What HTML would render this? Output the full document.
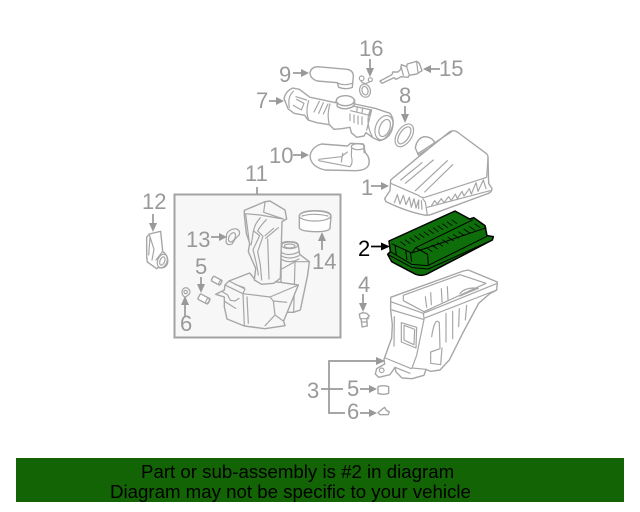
<!DOCTYPE html>
<html><head><meta charset="utf-8">
<style>
html,body{margin:0;padding:0;background:#fff;width:640px;height:512px;overflow:hidden}
svg{display:block;position:absolute;left:0;top:0;filter:blur(.3px)}
.n{font-family:"Liberation Sans",sans-serif;font-size:22px;fill:#999}
.l{fill:none;stroke:#a6a6a6;stroke-width:3.6;stroke-linejoin:round;stroke-linecap:round}
.w{fill:#fff;stroke:#a6a6a6;stroke-width:4.2;stroke-linejoin:round;stroke-linecap:round}
.f{fill:#f7f7f7;stroke:#a6a6a6;stroke-width:4.2;stroke-linejoin:round;stroke-linecap:round}
.a{fill:none;stroke:#999;stroke-width:1.7}
.h{fill:#999}
#b{position:absolute;left:16px;top:458px;width:608px;height:44px;background:#126405}
.t{position:absolute;font:18.67px/21px "Liberation Sans",sans-serif;color:#000;white-space:nowrap}
</style></head>
<body>
<svg width="640" height="512" viewBox="0 0 640 512">
<!-- box 11 -->
<rect x="174.500" y="194.500" width="166" height="143" fill="#f7f7f7" stroke="#a3a3a3" stroke-width="2"/>
<path class="a" d="M257 187V194"/>

<!-- top group -->
<g transform="translate(260,30) scale(.33333)">
 <!-- 9 -->
 <path class="w" d="M150 128Q153 112 172 110L262 118Q280 122 280 138L277 172Q258 180 236 172L232 158L172 153Q150 146 150 128Z"/>
 <path class="l" d="M234 160Q256 168 276 160"/>
 <!-- 16 -->
 <circle class="l" cx="305" cy="145" r="7"/><circle class="l" cx="331" cy="149" r="6"/>
 <path class="l" d="M303 153Q312 166 328 156"/>
 <ellipse class="l" cx="315" cy="182" rx="16" ry="20" transform="rotate(-15 315 182)"/>
 <ellipse class="l" cx="315" cy="182" rx="9" ry="13" transform="rotate(-15 315 182)"/>
 <!-- 15 -->
 <path class="w" d="M360 153L396 134L398 126L414 126L422 118L424 104L440 110L442 102L470 94L478 100L486 122L470 132L448 136L444 142L424 140L408 148L402 143L366 160Z"/>
 <path class="l" d="M440 110L448 136M424 112L430 136M470 96L474 128"/>
 <!-- 8 -->
 <ellipse class="l" cx="433" cy="316" rx="22" ry="38" transform="rotate(33 433 316)"/>
 <ellipse class="l" cx="433" cy="316" rx="14" ry="29" transform="rotate(33 433 316)"/>
 <!-- 10 -->
 <path class="w" d="M150 378Q155 350 185 342L262 348L272 340L310 342L316 368Q332 385 326 405Q318 422 285 422L195 420Q152 410 150 378Z"/>
 <ellipse class="l" cx="294" cy="350" rx="20" ry="9"/>
 <path class="l" d="M275 352L274 378M312 352L312 368M176 388L244 380L262 366M176 392L270 410Q280 400 274 378M248 370L244 396"/>
 <!-- 7 -->
 <path class="w" d="M72 205Q78 182 98 174L118 178L150 202L180 208L226 218Q236 200 260 198Q284 202 284 222L345 235L390 250Q408 274 392 302Q378 330 358 332L340 324L318 308L312 318L290 322L274 308L270 292L245 296L222 298L208 284L170 278L144 270L134 256L102 250L84 236Z"/>
 <ellipse class="l" cx="372" cy="293" rx="25" ry="38" transform="rotate(22 372 293)"/>
 <ellipse class="l" cx="374" cy="294" rx="15" ry="27" transform="rotate(22 374 294)"/>
 <path class="w" d="M230 210L232 230Q256 244 282 228L284 210Z"/>
 <ellipse class="w" cx="256" cy="212" rx="27" ry="15"/>
 <path class="l" d="M146 212Q136 245 146 270M210 222Q200 255 208 284M162 246L178 214M176 250L190 218M190 252L204 222M270 252L270 272M282 255L282 278M294 258L294 282M306 260L306 284M278 228L335 240L328 256L272 242M100 184Q82 200 88 232M100 226L124 240L132 220L110 208M108 200L140 210M335 240L320 300M330 242Q315 280 338 322"/>
 <path class="l" d="M292 232L290 246M308 236L306 250"/>
</g>

<!-- 11 assembly -->
<g transform="translate(215,195) scale(.33333)" >
 <!-- neck -->
 <path class="f" d="M198 152Q198 138 224 140Q250 140 250 152L254 178L283 200L278 240L256 345L236 352L216 352L206 306L198 300Z"/>
 <path class="l" d="M199 172Q222 186 252 170M198 182Q222 196 252 182M198 192Q222 208 252 192M200 222L240 200L283 200M240 200L236 352"/>
 <ellipse class="l" cx="224" cy="151" rx="24" ry="10"/>
 <ellipse class="l" cx="224" cy="153" rx="16" ry="6"/>
 <!-- tank -->
 <path class="f" d="M2 298L28 285L30 270L42 258L104 234L122 256L196 262L250 270L206 378L210 392L150 401L88 393L36 372L28 336L28 306Z"/>
 <path class="l" d="M42 258L90 282L84 296L34 272M84 296L88 392M84 296L165 306L250 270M165 306L175 318L215 322M175 318L180 360L150 392M180 360L205 378M96 306L100 385M22 290L38 300L46 316L60 318L72 310M30 320L62 340M60 268L88 278"/>
 <!-- tall duct -->
 <path class="f" d="M88 60L88 46L150 20L165 18L210 45L215 72L201 80L196 250L176 265L140 268L118 255L122 220L100 170L104 145L94 115Z"/>
 <path class="l" d="M90 56L135 60L205 72M150 22L146 52L205 72M92 58L102 135M108 150L112 130L115 108M136 68Q118 88 116 108L134 122L114 164L124 205L130 240M154 74Q136 92 128 108L144 124L128 170L136 210L140 255M190 98L152 130M176 100L150 122M158 132L162 252"/>
</g>

<!-- 13 ring, 14 cuff etc -->
<g transform="translate(130,160) scale(.33333)">
 <path class="l" d="M290 222Q298 206 318 206Q332 212 328 224L316 236L306 252Q292 258 288 246Z"/>
 <ellipse class="l" cx="306" cy="232" rx="9" ry="15" transform="rotate(28 306 232)"/>
 <!-- 14 -->
 <path class="w" d="M508 168Q510 152 556 152Q602 152 603 168L600 205Q596 215 556 215Q512 214 508 204Z"/>
 <ellipse class="l" cx="555" cy="168" rx="47" ry="15"/>
 <path class="l" d="M516 168Q550 158 594 168"/>
 <!-- 12 -->
 <path class="w" d="M50 232L58 222L92 214L98 274Q118 290 112 312Q104 328 85 322L80 326L52 306L50 290Z"/>
 <ellipse class="l" cx="97" cy="303" rx="14" ry="21" transform="rotate(22 97 303)"/>
 <ellipse class="l" cx="97" cy="303" rx="7" ry="13" transform="rotate(22 97 303)"/>
 <path class="l" d="M58 224L72 268L66 300M60 232L56 285M98 274L78 300"/>
 <!-- plugs -->
 <g transform="rotate(28 260 362)"><rect class="w" x="245" y="354" width="30" height="16" rx="4"/><ellipse class="l" cx="272" cy="362" rx="3" ry="8"/></g>
 <g transform="rotate(28 222 417)"><rect class="w" x="205" y="408" width="34" height="18" rx="4"/><ellipse class="l" cx="234" cy="417" rx="4" ry="9"/></g>
 <!-- clip 6 -->
 <path class="l" d="M156 395Q160 380 172 384Q184 392 178 402L166 412Q156 408 156 395Z"/>
 <circle class="l" cx="167" cy="396" r="5"/>
</g>

<!-- Part 1 -->
<g transform="translate(350,120) scale(.33333)">
 <path class="w" d="M196 84Q200 56 222 50Q246 50 254 68L238 84L205 105Z"/>
 <path class="w" d="M122 180L204 112L298 36Q310 28 322 36L408 100Q414 104 414 112L416 190L426 206Q425 218 410 222L245 283Q235 287 222 285Q170 275 108 245L104 236L120 212Z"/>
 <path class="l" d="M122 190L205 226Q214 234 225 232L410 172M414 112L410 172M232 285L226 246L218 236M420 212L232 262M152 180L216 128M166 190L250 120M196 212L292 122M224 216L308 134M204 100L304 36"/>
 <path class="l" d="M133 248L142 224L150 252L160 226L168 254L178 232L184 262L192 236L198 264L206 240L206 266M214 242L216 268M244 258L254 242L262 252L274 236L282 248L296 230L304 242L316 222L322 236L336 214L342 228L358 206L364 222L378 188L384 214L400 180L408 206" stroke-width="3"/>
</g>

<!-- Part 3 -->
<g transform="translate(300,270) scale(.33333)">
 <path class="w" d="M272 82L490 3L505 0L592 36L590 60L568 72L536 100L490 186L448 270L420 300L392 304L378 298L372 316L336 326L306 324L288 306L285 292L270 314L236 322L226 312L230 296L254 282L252 268L275 204L277 164L272 120Z"/>
 <path class="l" d="M272 95L370 130L592 40M370 130L372 145L590 60M310 76L480 14L558 40L372 125L310 92ZM276 120L370 148M372 148L350 256L336 294M256 264L334 296M283 140L282 228M304 158L350 172L348 234L304 216ZM312 166L344 178L342 224L312 210ZM376 80L380 112M392 68L394 104M424 56L426 96M442 50L444 90M480 70Q498 50 535 55L480 78M395 200Q404 140 418 158L420 236L392 246L392 280L422 284L426 234M438 130V216M458 124V206M478 116L476 170M500 106L496 150M336 294L378 298M285 292L330 310"/>
 <circle class="l" cx="245" cy="301" r="7"/>
 <!-- 4 clip -->
 <path class="w" d="M178 132L188 128L200 130L208 138L200 146L202 168L186 171L184 150L180 144Z"/>
 <path class="l" d="M182 146L206 146M184 156L202 156"/>
 <!-- bottom 5 -->
 <path class="w" d="M234 350Q250 344 266 350V370Q250 376 234 370Z"/>
 <!-- bottom 6 -->
 <path class="w" d="M246 418L254 412L258 420L268 426L264 434L240 434L234 428Z"/>
</g>

<!-- Part 2 green -->
<g transform="translate(375,205) scale(.33333)">
 <path fill="#0e6e0a" stroke="#000" stroke-width="4.500" stroke-linejoin="round" d="M42 108L240 18L284 42L296 38L330 62L336 92L355 95L352 105L154 208Q138 214 122 208L50 170L38 148L46 140Z"/>
 <path fill="none" stroke="#000" stroke-width="3" stroke-linejoin="round" d="M46 140L110 178L158 182L336 94M38 148L112 188L160 192L352 105M50 116L110 144L122 128L294 44M110 144L334 68M122 128L158 148L160 180M60 120L64 150M92 135L96 165M106 142L110 170"/>
 <g fill="none" stroke="#000" stroke-width="2.500">
  <path d="M76 110L92 122M90 104L106 116M104 98L120 110M118 92L134 104M132 86L148 98M146 80L162 92M160 74L176 86M174 68L190 80M188 62L204 74M202 56L218 68M216 50L232 62M230 44L246 56"/>
  <path d="M138 136L156 148M154 128L172 140M170 120L188 132M186 112L204 124M202 104L220 116M218 96L236 108M234 88L252 100M250 80L268 92M266 72L284 84M282 64L300 76M298 56L316 68"/>
 </g>
</g>

<!-- connector lines -->
<path class="a" d="M380 361H329V413H345M321 389H343"/>
<path class="h" d="M385 361L376 357V365Z"/>

<g class="a">
 <path d="M370 59V72"/><path d="M425 69H440"/><path d="M405 106V118"/><path d="M293 73H304"/><path d="M269 101H279"/><path d="M293 155H304"/><path d="M371 186H384"/>
 <path d="M153 214V226"/><path d="M211 237H222"/><path d="M322 250V238"/><path d="M201 277V288"/><path d="M185 317V302"/><path d="M363 294V306"/><path d="M360 389H372"/><path d="M360 413H372"/>
</g>
<g class="h">
 <path d="M370 77L366 68H374Z"/>
 <path d="M423 69L431 65V73Z"/>
 <path d="M405 123L401 114H409Z"/>
 <path d="M309 73L301 69V77Z"/>
 <path d="M284 101L276 97V105Z"/>
 <path d="M309 155L301 151V159Z"/>
 <path d="M389 186L381 182V190Z"/>
 <path d="M153 232L149 223H157Z"/>
 <path d="M227 237L219 233V241Z"/>
 <path d="M322 232L318 241H326Z"/>
 <path d="M201 293L197 284H205Z"/>
 <path d="M185 296L181 305H189Z"/>
 <path d="M363 312L359 303H367Z"/>
 <path d="M377 389L369 385V393Z"/>
 <path d="M377 413L369 409V417Z"/>
</g>
<path d="M371 246.500H384" stroke="#000" stroke-width="1.700"/>
<path d="M390 246.500L381 242.500V250.500Z" fill="#000"/>

<!-- labels -->
<g class="n">
 <text x="359" y="56">16</text>
 <text x="279" y="82">9</text>
 <text x="256" y="108">7</text>
 <text x="439" y="76">15</text>
 <text x="399" y="103">8</text>
 <text x="269" y="163">10</text>
 <text x="361" y="195">1</text>
 <text x="245" y="181">11</text>
 <text x="142" y="209">12</text>
 <text x="186" y="247">13</text>
 <text x="312" y="269">14</text>
 <text x="195" y="274">5</text>
 <text x="180" y="331">6</text>
 <text x="358" y="292">4</text>
 <text x="307" y="398">3</text>
 <text x="347" y="396">5</text>
 <text x="347" y="419">6</text>
 <text x="358" y="256" style="fill:#000">2</text>
</g>
</svg>
<div id="b"></div>
<div class="t" style="left:141px;top:461px">Part or sub-assembly is #2 in diagram</div>
<div class="t" style="left:110px;top:481px">Diagram may not be specific to your vehicle</div>
</body></html>
